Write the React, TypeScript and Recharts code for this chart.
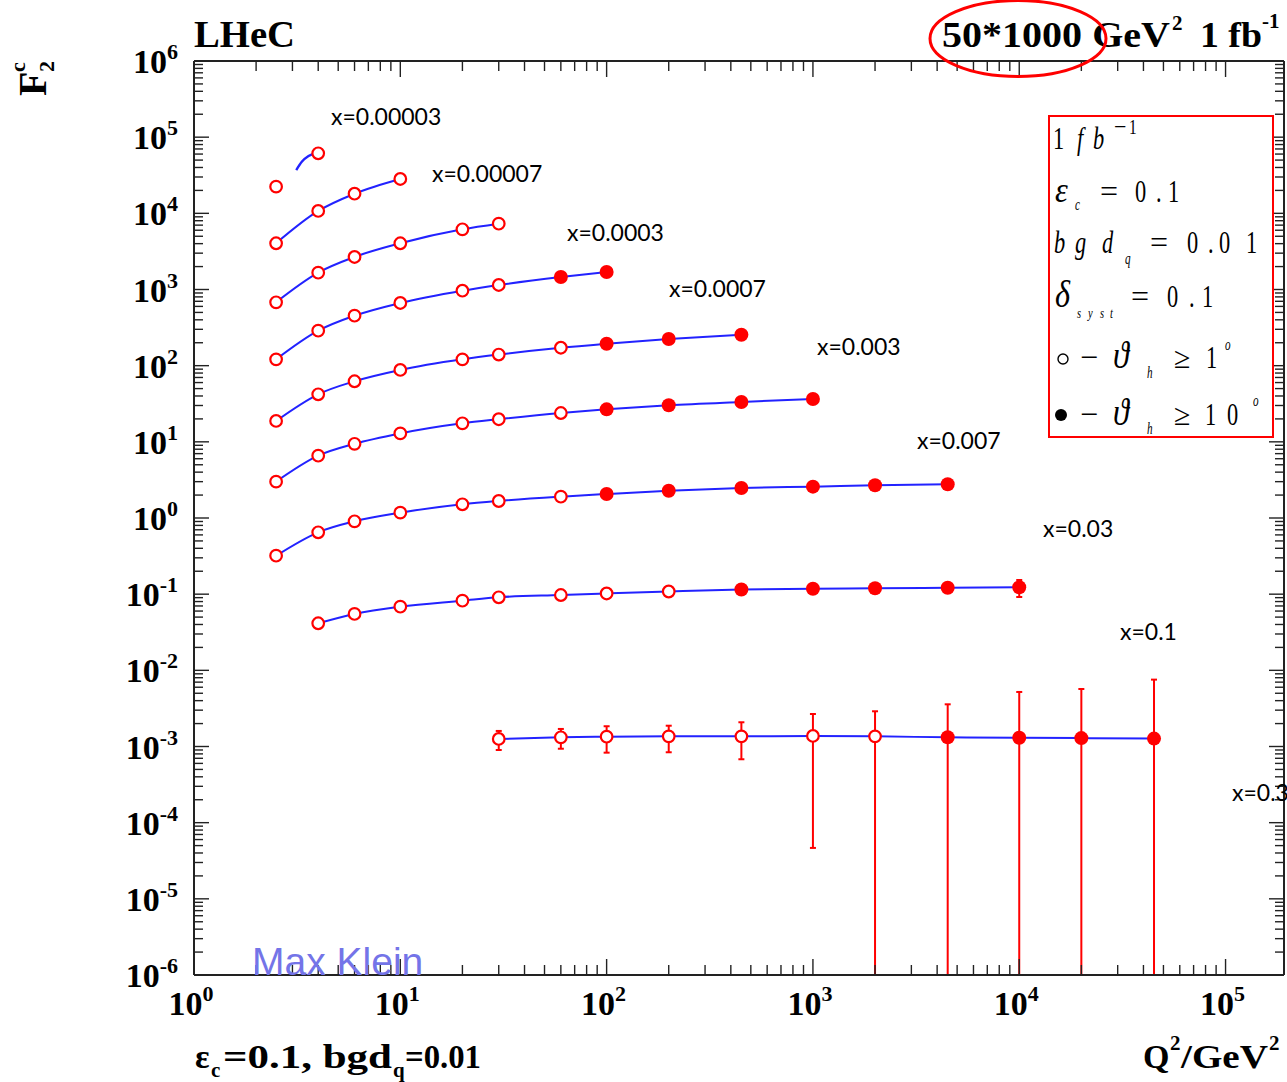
import { ComposedChart, ErrorBar, Line, Scatter, XAxis, YAxis } from 'recharts';

const W = 1287;
const H = 1082;
const RED = '#ff0000';
const BLUE = '#2222ff';
const AXIS = '#222';
const SERIF = '"Liberation Serif", "Times New Roman", serif';

// Q^2 points and offset F2c values, one pair of arrays per x bin
const q2A = [2.5, 4];
const fA = [22400, 61400];
// short theory arc drawn for the lowest x bin
const q2ArcA = [3.13, 3.33, 3.59, 4];
const fArcA = [37000, 47600, 56600, 62500];

const q2B = [2.5, 4, 6, 10];
const fB = [4045, 10740, 18100, 28250];

const q2C = [2.5, 4, 6, 10, 20, 30];
const fC = [679, 1663, 2673, 4045, 6170, 7310];

const q2D = [2.5, 4, 6, 10, 20, 30, 60, 100];
const fD = [121, 288, 453, 665, 964, 1146, 1460, 1698];

const q2E = [2.5, 4, 6, 10, 20, 30, 60, 100, 200, 450];
const fE = [18.8, 42.1, 62.4, 87.8, 121, 140, 172, 194, 224, 255];

const q2F = [2.5, 4, 6, 10, 20, 30, 60, 100, 200, 450, 1000];
const fF = [3.0, 6.58, 9.42, 12.9, 17.5, 19.8, 23.9, 26.7, 30.2, 33.4, 36.5];

const q2G = [2.5, 4, 6, 10, 20, 30, 60, 100, 200, 450, 1000, 2000, 4500];
const fG = [0.32, 0.649, 0.905, 1.175, 1.514, 1.672, 1.905, 2.066, 2.284, 2.478, 2.578, 2.69, 2.77];

const q2H = [4, 6, 10, 20, 30, 60, 100, 200, 450, 1000, 2000, 4500, 10000];
const fH = [0.0415, 0.055, 0.0685, 0.0821, 0.091, 0.0975, 0.1021, 0.1084, 0.1152, 0.118, 0.1194, 0.1216, 0.123];
const loH = [null, null, null, null, null, null, null, null, null, null, null, null, 0.0918];
const hiH = [null, null, null, null, null, null, null, null, null, null, null, null, 0.1535];

const q2I = [30, 60, 100, 200, 450, 1000, 2000, 4500, 10000, 20000, 45000];
const fI = [1.256e-3, 1.32e-3, 1.345e-3, 1.36e-3, 1.36e-3, 1.375e-3, 1.36e-3, 1.32e-3, 1.305e-3, 1.29e-3, 1.27e-3];
const loI = [9.0e-4, 9.35e-4, 8.3e-4, 8.4e-4, 6.8e-4, 4.66e-5, 1e-6, 1e-6, 1e-6, 1e-6, 1e-6];
const hiI = [1.6e-3, 1.7e-3, 1.845e-3, 1.875e-3, 2.08e-3, 2.67e-3, 2.9e-3, 3.58e-3, 5.2e-3, 5.69e-3, 7.55e-3];

// how many leading points of each bin are open markers (theta_h >= 1 deg only)
const nOpen = [2, 4, 6, 6, 7, 7, 7, 8, 7];

const xLabels = ['x=0.00003', 'x=0.00007', 'x=0.0003', 'x=0.0007', 'x=0.003', 'x=0.007', 'x=0.03', 'x=0.1', 'x=0.3'];
const xLabelPos = [
  [331, 125], [432, 182], [567, 241], [669, 297], [817, 355], [917, 449], [1043, 537], [1120, 640], [1232, 801],
];

const xDecades = [0, 1, 2, 3, 4, 5];
const yDecades = [-6, -5, -4, -3, -2, -1, 0, 1, 2, 3, 4, 5, 6];
const X_MAX = 1.92e5;

type Pt = { q: number; f: number; err: [number, number] };

function build(q: number[], f: number[], lo?: (number | null)[], hi?: (number | null)[]): Pt[] {
  return q.map((v, i) => ({
    q: v,
    f: f[i],
    err: [lo && lo[i] != null ? f[i] - (lo[i] as number) : 0, hi && hi[i] != null ? (hi[i] as number) - f[i] : 0],
  }));
}

const bins: Pt[][] = [
  build(q2A, fA),
  build(q2B, fB),
  build(q2C, fC),
  build(q2D, fD),
  build(q2E, fE),
  build(q2F, fF),
  build(q2G, fG),
  build(q2H, fH, loH, hiH),
  build(q2I, fI, loI, hiI),
];
const arcA = build(q2ArcA, fArcA);

function logTicks(decades: number[], max: number) {
  const out: number[] = [];
  decades.forEach((d) => {
    for (let k = 1; k <= 9; k++) {
      const v = Number(`${k}e${d}`);
      if (v <= max) out.push(v);
    }
  });
  return out;
}
const xTicks = logTicks(xDecades, X_MAX);
const yTicks = logTicks(yDecades, 1e6);

const decadeOf = (v: number) => {
  const e = Math.log10(v);
  return Math.abs(e - Math.round(e)) < 1e-6 ? Math.round(e) : null;
};

function XTick(props: any) {
  const { x, y, payload, side } = props;
  const e = decadeOf(payload.value);
  const len = e !== null ? 16 : 10;
  const dir = side === 'bottom' ? -1 : 1;
  return (
    <g>
      <line x1={x} x2={x} y1={y} y2={y + dir * len} stroke={AXIS} strokeWidth={1.4} />
      {e !== null && side === 'bottom' && (
        <text x={x - 3} y={y + 40} textAnchor="middle" fontFamily={SERIF} fontWeight="bold" fontSize={34} fill="#000">
          10
          <tspan dy={-14} fontSize={22}>{e}</tspan>
        </text>
      )}
    </g>
  );
}

function YTick(props: any) {
  const { x, y, payload, side } = props;
  const e = decadeOf(payload.value);
  const len = e !== null ? 15 : 9;
  const dir = side === 'left' ? 1 : -1;
  return (
    <g>
      <line x1={x} x2={x + dir * len} y1={y} y2={y} stroke={AXIS} strokeWidth={1.4} />
      {e !== null && side === 'left' && (
        <text x={x - 16} y={y + 12} textAnchor="end" fontFamily={SERIF} fontWeight="bold" fontSize={34} fill="#000">
          10
          <tspan dy={-14} fontSize={22}>{e}</tspan>
        </text>
      )}
    </g>
  );
}

const openDot = (p: any) => <circle cx={p.cx} cy={p.cy} r={5.8} fill="#fff" stroke={RED} strokeWidth={2.2} />;
const fullDot = (p: any) => <circle cx={p.cx} cy={p.cy} r={7} fill={RED} />;

// narrow equation-style glyph used inside the settings box
function G({ x, y, s = 32, it = false, b = false, sx = 0.7, children }: any) {
  return (
    <text
      transform={`translate(${x},${y}) scale(${sx},1)`}
      fontSize={s}
      fontStyle={it ? 'italic' : 'normal'}
      fontWeight={b ? 'bold' : 'normal'}
      fontFamily={SERIF}
      fill="#000"
    >
      {children}
    </text>
  );
}

function Overlay() {
  return (
    <svg width={W} height={H} style={{ position: 'absolute', left: 0, top: 0, pointerEvents: 'none' }}>
      <g fontFamily={SERIF} fontWeight="bold" fill="#000">
        <text x={194} y={47} fontSize={37} textLength={101} lengthAdjust="spacingAndGlyphs">LHeC</text>
        <text x={942} y={47} fontSize={35} textLength={228} lengthAdjust="spacingAndGlyphs">50*1000 GeV</text>
        <text x={1172} y={30} fontSize={21}>2</text>
        <text x={1200} y={47} fontSize={35} textLength={62} lengthAdjust="spacingAndGlyphs">1 fb</text>
        <text x={1262} y={28} fontSize={21}>-1</text>

        <g transform="translate(46,96) rotate(-90)">
          <text x={0} y={0} fontSize={40}>F</text>
          <text x={24} y={-21} fontSize={22}>c</text>
          <text x={24} y={8} fontSize={22}>2</text>
        </g>

        <text x={195} y={1068} fontSize={34}>ε</text>
        <text x={211} y={1077} fontSize={21}>c</text>
        <text x={223} y={1068} fontSize={34} textLength={169} lengthAdjust="spacingAndGlyphs">=0.1, bgd</text>
        <text x={393} y={1077} fontSize={21}>q</text>
        <text x={405} y={1068} fontSize={34} textLength={76} lengthAdjust="spacingAndGlyphs">=0.01</text>

        <text x={1143} y={1068} fontSize={34}>Q</text>
        <text x={1170} y={1050} fontSize={21}>2</text>
        <text x={1181} y={1068} fontSize={34} textLength={87} lengthAdjust="spacingAndGlyphs">/GeV</text>
        <text x={1269} y={1050} fontSize={21}>2</text>
      </g>

      <ellipse cx={1018} cy={38.5} rx={88} ry={38} fill="none" stroke={RED} strokeWidth={3} />

      <g fontFamily="Lato, 'Open Sans', sans-serif" fontSize={23} fill="#000">
        {xLabels.map((t, i) => (
          <text key={t} x={xLabelPos[i][0]} y={xLabelPos[i][1]}>{t}</text>
        ))}
      </g>

      <text x={252} y={975} fontFamily="'Liberation Sans', Arial, sans-serif" fontSize={39} fill="#7474e8">
        Max Klein
      </text>

      <rect x={1049} y={116} width={224} height={321} fill="#fff" stroke={RED} strokeWidth={2} />
      <G x={1053} y={149}>1</G>
      <G x={1077} y={149} it>f</G>
      <G x={1093} y={149} it>b</G>
      <G x={1114} y={134} s={22} sx={1}>−</G>
      <G x={1129} y={134} s={22}>1</G>

      <G x={1055} y={202} s={36} it sx={0.9}>ε</G>
      <G x={1075} y={210} s={16} it>c</G>
      <G x={1100} y={202} sx={1}>=</G>
      <G x={1135} y={202}>0</G>
      <G x={1156} y={202}>.</G>
      <G x={1168} y={202}>1</G>

      <G x={1054} y={253} it>b</G>
      <G x={1075} y={253} it>g</G>
      <G x={1102} y={253} it>d</G>
      <G x={1125} y={264} s={16} it>q</G>
      <G x={1150} y={253} sx={1}>=</G>
      <G x={1187} y={253}>0</G>
      <G x={1208} y={253}>.</G>
      <G x={1219} y={253}>0</G>
      <G x={1246} y={253}>1</G>

      <G x={1055} y={307} s={38} it sx={0.85}>δ</G>
      <G x={1077} y={318} s={15} it>s</G>
      <G x={1088} y={318} s={15} it>y</G>
      <G x={1100} y={318} s={15} it>s</G>
      <G x={1110} y={318} s={15} it>t</G>
      <G x={1131} y={307} sx={1}>=</G>
      <G x={1167} y={307}>0</G>
      <G x={1189} y={307}>.</G>
      <G x={1202} y={307}>1</G>

      <circle cx={1063} cy={359} r={5} fill="none" stroke="#000" strokeWidth={1.4} />
      <G x={1080} y={368} sx={1}>−</G>
      <G x={1113} y={368} s={38} it sx={0.85}>ϑ</G>
      <G x={1147} y={378} s={16} it>h</G>
      <G x={1174} y={368} s={30} sx={1}>≥</G>
      <G x={1206} y={368}>1</G>
      <G x={1225} y={350} s={16} it>o</G>

      <circle cx={1061} cy={415} r={6} fill="#000" />
      <G x={1080} y={425} sx={1}>−</G>
      <G x={1113} y={425} s={38} it sx={0.85}>ϑ</G>
      <G x={1147} y={434} s={16} it>h</G>
      <G x={1174} y={425} s={30} sx={1}>≥</G>
      <G x={1205} y={425}>1</G>
      <G x={1227} y={425}>0</G>
      <G x={1253} y={406} s={16} it>o</G>
    </svg>
  );
}

export default function App() {
  return (
    <div style={{ position: 'absolute', left: 0, top: 0, width: W, height: H, background: '#fff' }}>
      <ComposedChart width={W} height={H} margin={{ top: 60, right: 2, bottom: 57, left: 94 }}>
        <XAxis
          xAxisId="b"
          dataKey="q"
          type="number"
          scale="log"
          domain={[1, X_MAX]}
          allowDataOverflow
          ticks={xTicks}
          interval={0}
          height={50}
          tickSize={0}
          tickMargin={0}
          tickLine={false}
          axisLine={{ stroke: AXIS, strokeWidth: 2 }}
          tick={(p: any) => <XTick {...p} side="bottom" />}
        />
        <XAxis
          xAxisId="t"
          orientation="top"
          dataKey="q"
          type="number"
          scale="log"
          domain={[1, X_MAX]}
          allowDataOverflow
          ticks={xTicks}
          interval={0}
          height={1}
          tickSize={0}
          tickMargin={0}
          tickLine={false}
          axisLine={{ stroke: AXIS, strokeWidth: 2 }}
          tick={(p: any) => <XTick {...p} side="top" />}
        />
        <YAxis
          yAxisId="l"
          dataKey="f"
          type="number"
          scale="log"
          domain={[1e-6, 1e6]}
          allowDataOverflow
          ticks={yTicks}
          interval={0}
          width={100}
          tickSize={0}
          tickMargin={0}
          tickLine={false}
          axisLine={{ stroke: AXIS, strokeWidth: 2 }}
          tick={(p: any) => <YTick {...p} side="left" />}
        />
        <YAxis
          yAxisId="r"
          orientation="right"
          dataKey="f"
          type="number"
          scale="log"
          domain={[1e-6, 1e6]}
          allowDataOverflow
          ticks={yTicks}
          interval={0}
          width={1}
          tickSize={0}
          tickMargin={0}
          tickLine={false}
          axisLine={{ stroke: AXIS, strokeWidth: 2 }}
          tick={(p: any) => <YTick {...p} side="right" />}
        />

        {bins.map((pts, i) => (
          <Scatter
            key={`o${i}`}
            data={pts.slice(0, nOpen[i])}
            dataKey="f"
            xAxisId="b"
            yAxisId="l"
            shape={openDot}
            isAnimationActive={false}
          >
            <ErrorBar dataKey="err" direction="y" width={3} stroke={RED} strokeWidth={2} />
          </Scatter>
        ))}
        {bins.map((pts, i) => (
          <Scatter
            key={`c${i}`}
            data={pts.slice(nOpen[i])}
            dataKey="f"
            xAxisId="b"
            yAxisId="l"
            shape={fullDot}
            isAnimationActive={false}
          >
            <ErrorBar dataKey="err" direction="y" width={3} stroke={RED} strokeWidth={2} />
          </Scatter>
        ))}

        <Line
          data={arcA}
          dataKey="f"
          xAxisId="b"
          yAxisId="l"
          type="monotone"
          stroke={BLUE}
          strokeWidth={2.4}
          dot={false}
          isAnimationActive={false}
        />
        {bins.slice(1).map((pts, i) => (
          <Line
            key={`l${i}`}
            data={pts}
            dataKey="f"
            xAxisId="b"
            yAxisId="l"
            type="monotone"
            stroke={BLUE}
            strokeWidth={2}
            dot={false}
            isAnimationActive={false}
          />
        ))}
      </ComposedChart>
      <Overlay />
    </div>
  );
}
